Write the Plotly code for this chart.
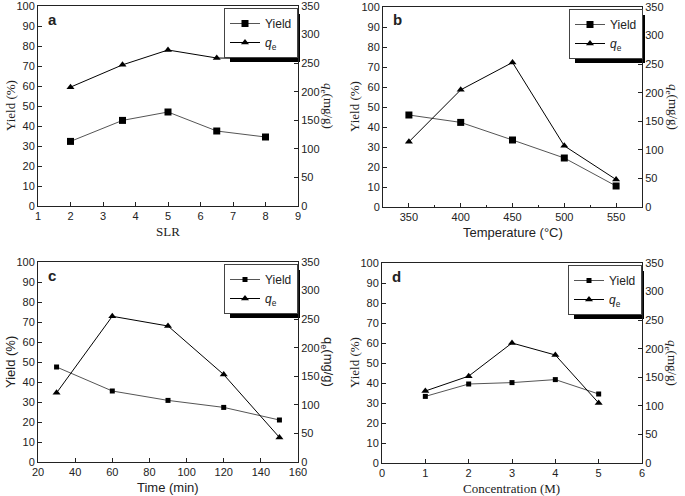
import plotly.graph_objects as go

W, H = 685, 496

# panel a: SLR
slr = [2, 3.6, 5, 6.5, 8]
slr_yield = [32.3, 42.8, 47.0, 37.5, 34.5]
slr_qe = [208, 247, 273, 259, 258]

# panel b: temperature
temp = [350, 400, 450, 500, 550]
temp_yield = [46.0, 42.3, 33.5, 24.5, 10.5]
temp_qe = [114, 205, 253, 107, 48]

# panel c: time
time_min = [30, 60, 90, 120, 150]
time_yield = [47.5, 35.5, 30.8, 27.3, 21.0]
time_qe = [121, 255, 238, 153, 43]

# panel d: concentration
conc = [1, 2, 3, 4, 5]
conc_yield = [33.3, 39.5, 40.2, 41.7, 34.5]
conc_qe = [126, 152, 210, 189, 105]

SANS = "Arial, Liberation Sans, sans-serif"
SERIF = "Times New Roman, Liberation Serif, serif"
INK = "#222"

def px(x):
    return x / W

def py(y):
    return 1 - y / H

# plot boxes in pixels: left, right, top, bottom
boxes = [(38, 298, 6, 206), (383, 642, 7, 207), (38, 298, 262, 462), (382, 642, 263, 463)]
xranges = [[1, 9], [325, 575], [20, 160], [0, 6]]
xdticks = [1, 50, 20, 1]
xtick0 = [1, 350, 20, 0]
xtitles = ["SLR", "Temperature (\u00b0C)", "Time (min)", "Concentration (M)"]
title_fonts = [SERIF, SANS, SANS, SERIF]
ytitle_fonts = [SERIF, SERIF, SANS, SERIF]
panel_names = ["a", "b", "c", "d"]
sq_size = [7, 7, 5, 5]

panels = [
    (slr, slr_yield, slr_qe),
    (temp, temp_yield, temp_qe),
    (time_min, time_yield, time_qe),
    (conc, conc_yield, conc_qe),
]

fig = go.Figure()

axis_common = dict(
    showline=True, linecolor=INK, linewidth=1, ticks="inside", ticklen=4,
    tickcolor=INK, showgrid=False, zeroline=False, automargin=False,
    ticklabeloverflow="allow",
    tickfont=dict(family=SANS, size=11, color=INK),
)

layout = {}
annotations = []
shapes = []

for i, (xs, yld, qe) in enumerate(panels):
    n = i + 1
    l, r, t, b = boxes[i]
    xa = "x" if n == 1 else f"x{n}"
    ya = "y" if n == 1 else f"y{n}"
    ya2 = f"y{n + 4}"
    leg = "legend" if n == 1 else f"legend{n}"

    fig.add_trace(go.Scatter(
        x=xs, y=yld, xaxis=xa, yaxis=ya, mode="lines+markers", name="Yield",
        line=dict(color="#555", width=1),
        marker=dict(symbol="square", size=sq_size[i], color="black"),
        legend=leg,
    ))
    fig.add_trace(go.Scatter(
        x=xs, y=qe, xaxis=xa, yaxis=ya2, mode="lines+markers", name="<i>q</i><sub>e</sub>",
        line=dict(color="black", width=1),
        marker=dict(symbol="triangle-up", size=7, color="black"),
        legend=leg,
    ))

    xkey = "xaxis" if n == 1 else f"xaxis{n}"
    ykey = "yaxis" if n == 1 else f"yaxis{n}"
    layout[xkey] = dict(
        axis_common, domain=[px(l), px(r)], anchor=ya, range=xranges[i],
        tick0=xtick0[i], dtick=xdticks[i], mirror=True,
    )
    if n == 2:
        layout[xkey]["minor"] = dict(dtick=25, tick0=325, ticks="inside", ticklen=2, tickcolor=INK)
    layout[ykey] = dict(
        axis_common, domain=[py(b), py(t)], anchor=xa, range=[0, 100], dtick=10,
    )
    layout[f"yaxis{n + 4}"] = dict(
        axis_common, overlaying=ya, side="right", anchor=xa, range=[0, 350], dtick=50,
    )

    # legend with drop shadow (shadow drawn under the traces)
    lx, ly = l + 186, t + 2
    lw, lh = 70, 48
    layout[leg] = dict(
        x=px(lx), y=py(ly), xanchor="left", yanchor="top",
        bgcolor="white", bordercolor="#444", borderwidth=1,
        font=dict(family=SANS, size=12, color=INK),
        tracegroupgap=0, itemwidth=30,
    )
    shapes.append(dict(
        type="rect", xref="paper", yref="paper",
        x0=px(lx + 6), x1=px(lx + lw + 6), y0=py(ly + lh + 6), y1=py(ly + 6),
        fillcolor="black", line=dict(width=0), layer="below",
    ))

    # panel letter
    annotations.append(dict(
        text=f"<b>{panel_names[i]}</b>", x=px(l + 8), y=py(t + 13),
        xref="paper", yref="paper", xanchor="left", yanchor="middle",
        showarrow=False, font=dict(family=SANS, size=15, color=INK),
    ))
    # x title
    annotations.append(dict(
        text=xtitles[i], x=px((l + r) / 2), y=py(b + 25),
        xref="paper", yref="paper", xanchor="center", yanchor="middle",
        showarrow=False, font=dict(family=title_fonts[i], size=13, color=INK),
    ))
    # left y title
    annotations.append(dict(
        text="Yield (%)", x=px(l - 28), y=py((t + b) / 2),
        xref="paper", yref="paper", xanchor="center", yanchor="middle",
        textangle=-90, showarrow=False,
        font=dict(family=ytitle_fonts[i], size=13, color=INK),
    ))
    # right y title
    rt = "q<sub>e</sub>(mg/g)" if i == 2 else "<i>q</i><sub>e</sub>(mg/g)"
    annotations.append(dict(
        text=rt, x=px(r + 30), y=py((t + b) / 2),
        xref="paper", yref="paper", xanchor="center", yanchor="middle",
        textangle=90, showarrow=False,
        font=dict(family=ytitle_fonts[i], size=13, color=INK),
    ))

fig.update_layout(
    width=W, height=H,
    margin=dict(l=0, r=0, t=0, b=0),
    paper_bgcolor="white", plot_bgcolor="rgba(0,0,0,0)",
    annotations=annotations, shapes=shapes,
    **layout,
)

# page body has a default margin; drop it so the figure fills the window
fig.write_html(
    "out.html",
    config={"displayModeBar": False},
    post_script="document.body.style.margin = '0px';",
)
